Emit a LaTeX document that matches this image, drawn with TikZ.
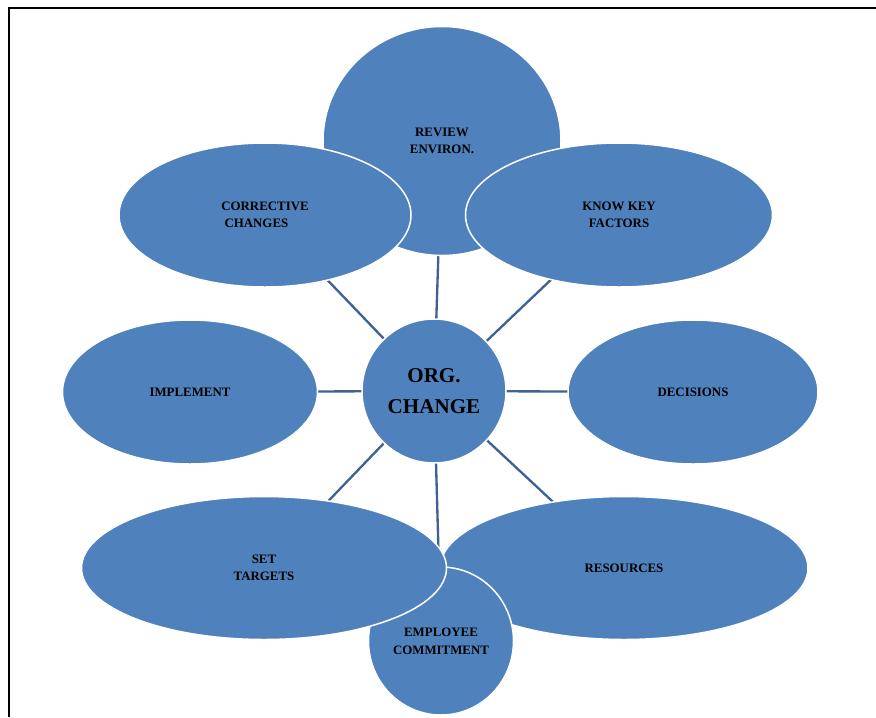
\documentclass[tikz,border=0pt]{standalone}
\usepackage{fontspec}
\setmainfont{Liberation Serif}
\usetikzlibrary{shapes.geometric, backgrounds}
\definecolor{blobblue}{RGB}{79,129,189}
\definecolor{spokeblue}{RGB}{62,98,148}

\begin{document}
\begin{tikzpicture}[
    x = 0.3mm, y = -0.3mm,
    blob/.style = {ellipse, fill=blobblue, draw=white, line width=0.45mm,
        inner sep=0mm, align=center,
        font=\fontsize{11}{15}\selectfont\bfseries},
    spoke/.style = {draw=spokeblue, line width=0.7mm}
  ]
  \useasboundingbox (0,0) rectangle (876,717);
  \draw[line width=0.6mm] (9,717) -- (9,7.5) -- (876,7.5);

  % outer ring, back to front
  \node[blob, minimum width=71.4mm, minimum height=68.7mm] (review) at (442,141) {REVIEW\\ENVIRON.};
  \node[blob, minimum width=87.6mm, minimum height=43.2mm, align=left] (corrective) at (265,215) {CORRECTIVE\\\ CHANGES};
  \node[blob, minimum width=92.1mm, minimum height=43.2mm] (knowkey) at (619,215) {KNOW KEY\\FACTORS};
  \node[blob, minimum width=76.5mm, minimum height=43.2mm] (implement) at (190,392) {IMPLEMENT};
  \node[blob, minimum width=75mm, minimum height=43.2mm] (decisions) at (693,392) {DECISIONS};
  \node[blob, minimum width=110.4mm, minimum height=42.9mm] (resources) at (624,568) {RESOURCES};
  \node[blob, minimum width=43.5mm, minimum height=44.4mm] (employee) at (441,641) {EMPLOYEE\\COMMITMENT};
  \node[blob, minimum width=109.5mm, minimum height=42.9mm] (settargets) at (264,568) {SET\\TARGETS};

  % hub
  \node[blob, circle, minimum size=43.2mm, font=\fontsize{18}{27}\selectfont\bfseries] (org) at (434,391) {ORG.\\CHANGE};

  \begin{pgfonlayer}{background}
    \foreach \n in {review,corrective,knowkey,implement,decisions,resources,employee,settargets}
      \draw[spoke] (org.center) -- (\n.center);
  \end{pgfonlayer}
\end{tikzpicture}
\end{document}
